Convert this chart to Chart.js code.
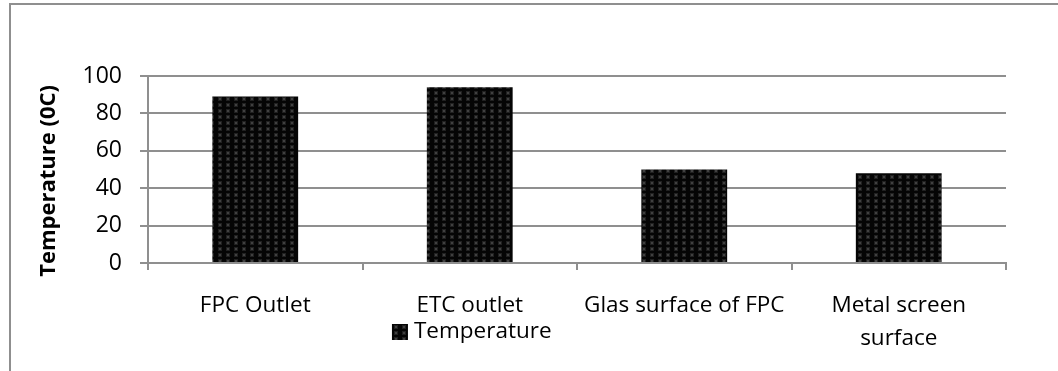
<!DOCTYPE html>
<html>
<head>
<meta charset="utf-8">
<script src="https://cdn.jsdelivr.net/npm/chart.js@4.4.1/dist/chart.umd.min.js"></script>
<style>
  html, body { margin: 0; padding: 0; background: #fff; overflow: hidden; }
  #wrap { position: relative; width: 1058px; height: 371px; }
  #frame { position: absolute; left: 9px; top: 3px; width: 1100px; height: 420px;
           border: 2px solid #8f8f8f; box-sizing: border-box; pointer-events: none; }
  canvas { position: absolute; left: 0; top: 0; }
</style>
</head>
<body>
<div id="wrap">
  <canvas id="c" width="1058" height="371"></canvas>
  <div id="frame"></div>
</div>
<script>
// Measured temperatures at each location
const categories = ['FPC Outlet', 'ETC outlet', 'Glas surface of FPC', ['Metal screen', 'surface']];
const seriesName = 'Temperature';
const temperatures = [89, 94, 50, 48];
const yTickValues = [0, 20, 40, 60, 80, 100];
const yAxisTitle = 'Temperature (0C)';

const AXIS_GRAY = '#8f8f8f';
const FONT = 'Open Sans';

// Dark dotted fill used for the bars and the legend swatch
function dottedFill() {
  const tile = document.createElement('canvas');
  tile.width = 8; tile.height = 6;
  const g = tile.getContext('2d');
  g.fillStyle = '#050505';
  g.fillRect(0, 0, 8, 6);
  g.fillStyle = '#202020';
  g.fillRect(2, 1, 4, 4);
  g.fillStyle = '#404040';
  g.fillRect(3, 2, 2, 2);
  return g.createPattern(tile, 'repeat');
}
const barFill = dottedFill();

// Legend drawn beneath the category labels
const bottomLegend = {
  id: 'bottomLegend',
  afterDraw(chart) {
    const ctx = chart.ctx;
    const ds = chart.data.datasets[0];
    const box = 16, gap = 6;
    ctx.save();
    ctx.font = `22.5px "${FONT}"`;
    const tw = ctx.measureText(ds.label).width;
    const cx = chart.scales.x.getPixelForValue(1) + 2;
    const left = cx - (box + gap + tw) / 2;
    const midY = 332;
    ctx.fillStyle = ds.backgroundColor;
    ctx.fillRect(left, midY - box / 2, box, box);
    ctx.fillStyle = '#000';
    ctx.textBaseline = 'middle';
    ctx.textAlign = 'left';
    ctx.fillText(ds.label, left + box + gap, midY);
    ctx.restore();
  }
};

new Chart(document.getElementById('c').getContext('2d'), {
  type: 'bar',
  data: {
    labels: categories,
    datasets: [{
      label: seriesName,
      data: temperatures,
      backgroundColor: barFill,
      borderWidth: 0,
      barPercentage: 0.8,
      categoryPercentage: 0.5
    }]
  },
  options: {
    responsive: false,
    animation: false,
    devicePixelRatio: 1,
    layout: { padding: { top: 76, right: 52, left: 0, bottom: 0 } },
    plugins: { legend: { display: false }, tooltip: { enabled: false } },
    scales: {
      x: {
        grid: { display: true, drawOnChartArea: false, drawTicks: true, tickLength: 7,
                color: AXIS_GRAY, lineWidth: 2, offset: true },
        border: { display: true, color: AXIS_GRAY, width: 2 },
        ticks: { font: { family: FONT, size: 22.5, lineHeight: 1.47 }, color: '#000',
                 padding: 19, maxRotation: 0, minRotation: 0, autoSkip: false },
        afterFit(s) { s.height = 108; }
      },
      y: {
        min: 0, max: 100,
        afterBuildTicks(s) { s.ticks = yTickValues.map(v => ({ value: v })); },
        ticks: { font: { family: FONT, size: 23 }, color: '#000', padding: 18 },
        grid: { color: AXIS_GRAY, lineWidth: 2, tickLength: 8 },
        border: { display: true, color: AXIS_GRAY, width: 2 },
        title: { display: true, text: yAxisTitle + '    ', color: '#000',
                 font: { family: FONT, size: 22, weight: 'bold', lineHeight: 1.2 },
                 padding: { top: 36, bottom: 0 } },
        afterFit(s) { s.width = 148; }
      }
    }
  },
  plugins: [bottomLegend]
});
</script>
</body>
</html>
